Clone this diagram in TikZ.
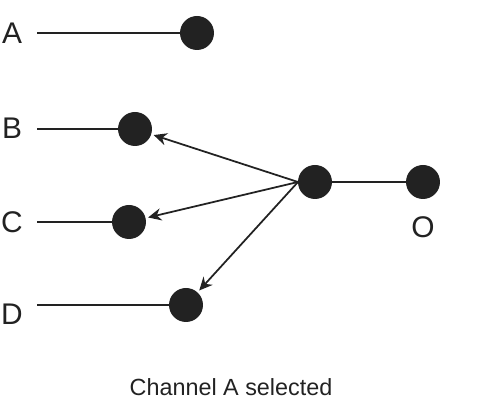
\documentclass[tikz,border=0pt]{standalone}
\usepackage{fontspec}
\setmainfont{Liberation Sans}
\usetikzlibrary{positioning}
\usetikzlibrary{arrows.meta}

\begin{document}
\begin{tikzpicture}[>={Stealth[length=7.5pt,width=7pt]},auto,node distance=1.48cm,
	line width=1.1pt,main node/.style={circle,fill=dot,minimum size=0.68cm,inner sep=0pt,outer sep=0pt},
	lbl/.style={text=dot,font=\fontsize{17}{17}\selectfont}]
	
	\definecolor{dot}{RGB}{34,34,34}
	\useasboundingbox (0,0) rectangle (9.6,-8.12);
	
	% channels
	\node[lbl] (la) at (0.24,-0.66) {A};
	\node[lbl] (lb) at (0.24,-2.56) {B};
	\node[lbl] (lc) at (0.24,-4.44) {C};
	\node[lbl] (ld) at (0.24,-6.28) {D};
	\coordinate (sa) at (0.74,-0.66);
	\coordinate (sb) at (0.74,-2.58);
	\coordinate (sc) at (0.74,-4.44);
	\coordinate (sd) at (0.74,-6.10);
	\node[main node] (a) at (3.94,-0.66) {};
	\node[main node] (b) at (2.70,-2.58) {};
	\node[main node] (c) at (2.58,-4.44) {};
	\node[main node] (d) at (3.72,-6.10) {};
	
	% switch and output
	\node[main node] (hub) at (6.30,-3.64) {};
	\node[main node] (o) [right=of hub] {};
	\node[lbl] (lo) [below=0.22cm of o] {O};
	
	\draw[color=dot] (sa) -- (a);
	\draw[color=dot] (sb) -- (b);
	\draw[color=dot] (sc) -- (c);
	\draw[color=dot] (sd) -- (d);
	\draw[color=dot] (hub) -- (o);
	
	\path[->,shorten >=1.5pt,color=dot,line width=1pt]
	(hub.west) edge (b)
	(hub.west) edge (c)
	(hub.west) edge (d);
	
	\node[text=dot,font=\fontsize{13.3}{13.3}\selectfont] (cap) at (4.62,-7.74) {Channel A selected};
\end{tikzpicture}
\end{document}
